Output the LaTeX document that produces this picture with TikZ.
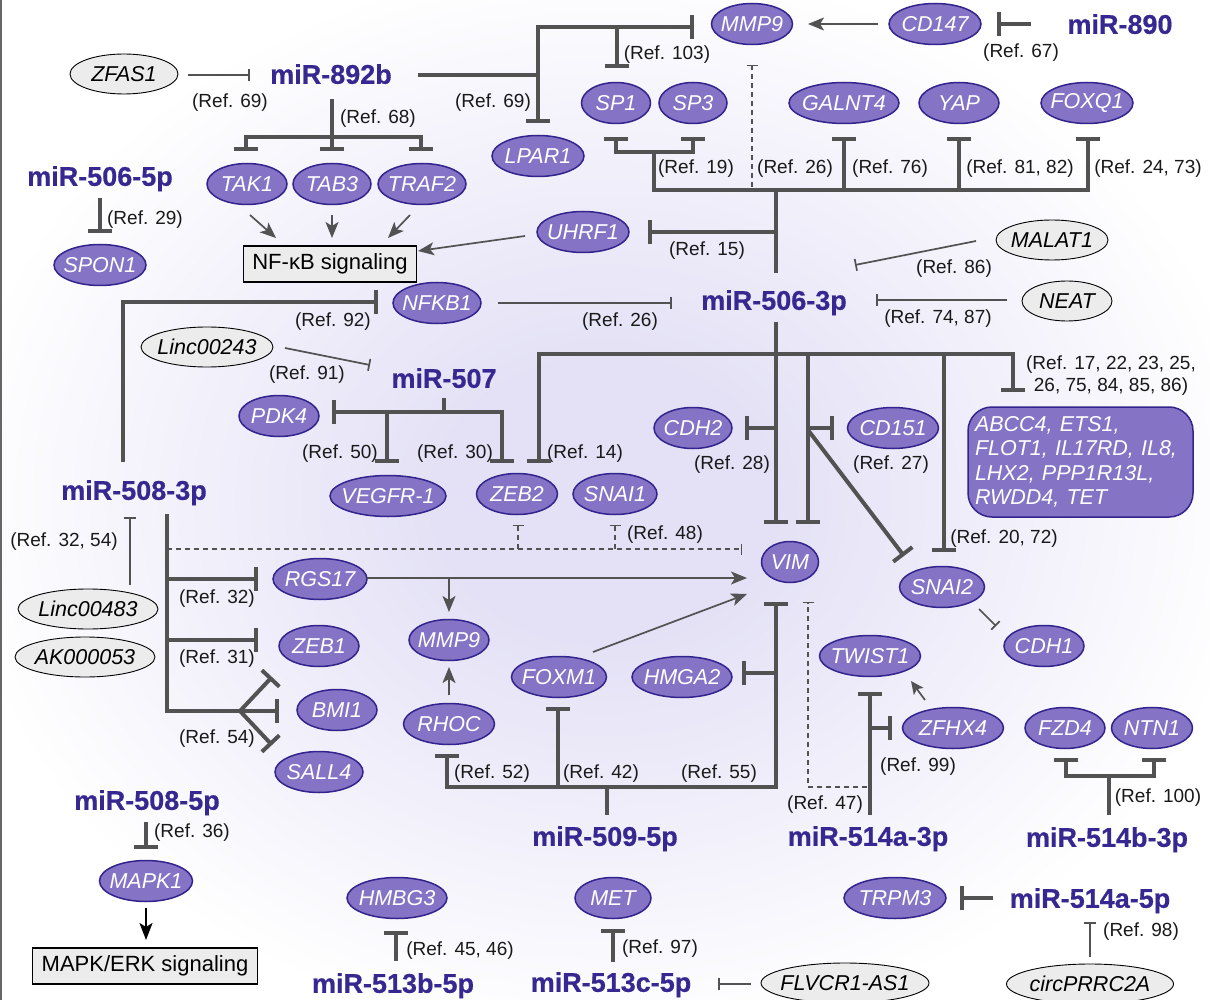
\documentclass[tikz,border=0pt]{standalone}
\usepackage{fontspec}
\setmainfont{Liberation Sans}[BoldFeatures={FakeBold=0.6}]
\usetikzlibrary{shapes.geometric,arrows.meta}
\definecolor{dblue}{RGB}{55,40,145}
\definecolor{gfill}{RGB}{133,115,198}
\definecolor{gbord}{RGB}{50,36,140}
\definecolor{lc}{RGB}{82,82,82}
\definecolor{lgray}{RGB}{236,236,236}
\definecolor{lav}{RGB}{228,225,246}
\pgfdeclareradialshading{bgsh}{\pgfpoint{0bp}{0bp}}{color(0bp)=(lav); color(7bp)=(lav); color(27bp)=(white); color(50bp)=(white)}
\tikzset{
  gene/.style={ellipse, draw=gbord, fill=gfill, line width=1.5pt, minimum height=41pt, inner sep=0pt},
  gtext/.style={text=white, font=\fontsize{21.5}{24}\selectfont\itshape, inner sep=0pt},
  lnc/.style={ellipse, draw=black, fill=lgray, line width=0.9pt, minimum height=40pt, inner sep=0pt},
  ltext/.style={text=black, font=\fontsize{21.5}{24}\selectfont\itshape, inner sep=0pt},
  mir/.style={text=dblue, font=\fontsize{27}{29}\selectfont\bfseries, inner sep=0pt, text depth=0pt},
  ref/.style={text=black!90, font=\fontsize{19}{22}\selectfont, inner sep=0pt, text depth=0pt},
  sbox/.style={draw=black, fill=lgray, line width=1.5pt, font=\fontsize{22}{24}\selectfont, inner xsep=9pt, inner ysep=0pt, minimum height=36pt},
  tbox/.style={draw=gbord, fill=gfill, line width=1.5pt, rounded corners=24pt, text=white, font=\fontsize{21.5}{24.3}\selectfont\itshape, align=left, text width=211pt, inner xsep=7pt, minimum width=225pt, minimum height=110pt},
  lk/.style={draw=lc, line width=4pt},
  inh/.style={lk, -{Bar[width=24pt]}},
  inhb/.style={lk, {Bar[width=24pt]}-{Bar[width=24pt]}},
  tl/.style={draw=lc, line width=1.7pt},
  tinh/.style={tl, -{Bar[width=12pt]}},
  tarr/.style={tl, -{Stealth[length=16pt, width=13pt, inset=4pt]}},
  dinh/.style={draw=lc, line width=1.3pt, dash pattern=on 5pt off 4pt, -{Bar[width=11pt]}},
}
\newcommand\genenode[4]{\node[gene, minimum width=#3pt, label={[gtext]center:#4}] (#1) at (#2) {};}
\newcommand\lncnode[4]{\node[lnc, minimum width=#3pt, label={[ltext]center:#4}] (#1) at (#2) {};}
\begin{document}
\begin{tikzpicture}[x=1pt,y=-1pt]
\useasboundingbox (0,0) rectangle (1210,1000);
\shade[shading=bgsh] (0,0) rectangle (1210,1000);
\draw[black!60, line width=1.5pt] (1,0) -- (1,1000);

% ---------- gene nodes ----------
\genenode{mmpA}{752,24}{81}{MMP9}
\genenode{cd147}{935,24}{92}{CD147}
\genenode{lpar1}{538,156}{92}{LPAR1}
\genenode{sp1}{616,103}{69}{SP1}
\genenode{sp3}{693,103}{68}{SP3}
\genenode{galnt4}{844,103}{110}{GALNT4}
\genenode{yap}{959,103}{80}{YAP}
\genenode{foxq1}{1087,103}{92}{FOXQ1}
\genenode{tak1}{247,184}{80}{TAK1}
\genenode{tab3}{332,184}{78}{TAB3}
\genenode{traf2}{422,184}{88}{TRAF2}
\genenode{uhrf1}{583,232}{92}{UHRF1}
\genenode{spon1}{100,265}{92}{SPON1}
\genenode{nfkb1}{437,303}{88}{NFKB1}
\genenode{cdh2}{693,428}{78}{CDH2}
\genenode{cd151}{893,428}{91}{CD151}
\genenode{pdk4}{279,416}{80}{PDK4}
\genenode{vegfr}{388,496}{116}{VEGFR-1}
\genenode{zeb2}{517,494}{81}{ZEB2}
\genenode{snai1}{615,494}{84}{SNAI1}
\genenode{vim}{790,562}{57}{VIM}
\genenode{rgs17}{320,579}{94}{RGS17}
\genenode{zeb1}{319,646}{80}{ZEB1}
\genenode{bmi1}{337,710}{80}{BMI1}
\genenode{sall4}{319,772}{88}{SALL4}
\genenode{mmpB}{449,640}{80}{MMP9}
\genenode{rhoc}{449,724}{91}{RHOC}
\genenode{foxm1}{559,677}{95}{FOXM1}
\genenode{hmga2}{682,677}{100}{HMGA2}
\genenode{snai2}{942,587}{85}{SNAI2}
\genenode{cdh1}{1044,646}{80}{CDH1}
\genenode{twist1}{870,656}{101}{TWIST1}
\genenode{zfhx4}{953,728}{101}{ZFHX4}
\genenode{fzd4}{1065,728}{80}{FZD4}
\genenode{ntn1}{1152,728}{81}{NTN1}
\genenode{mapk1}{146,881}{93}{MAPK1}
\genenode{hmbg3}{397,898}{100}{HMBG3}
\genenode{met}{613,898}{76}{MET}
\genenode{trpm3}{895,898}{102}{TRPM3}

% ---------- lncRNA nodes ----------
\lncnode{zfas1}{124,74}{108}{ZFAS1}
\lncnode{malat1}{1052,240}{112}{MALAT1}
\lncnode{neat}{1067,301}{90}{NEAT}
\lncnode{linc243}{207,347}{132}{Linc00243}
\lncnode{linc483}{88,609}{140}{Linc00483}
\lncnode{ak53}{85,657}{140}{AK000053}
\lncnode{flvcr}{845,983}{168}{FLVCR1-AS1}
\lncnode{circ}{1090,984}{167}{circPRRC2A}

% ---------- miRNA labels ----------
\node[mir] (m890) at (1120,24) {miR-890};
\node[mir] (m892b) at (331,74) {miR-892b};
\node[mir] (m5065p) at (100,176) {miR-506-5p};
\node[mir] (m5063p) at (774,300) {miR-506-3p};
\node[mir] (m507) at (444,378) {miR-507};
\node[mir] (m5083p) at (134,490) {miR-508-3p};
\node[mir] (m5085p) at (147,800) {miR-508-5p};
\node[mir] (m5095p) at (605,836) {miR-509-5p};
\node[mir] (m514a3) at (868,836) {miR-514a-3p};
\node[mir] (m514b3) at (1107,837) {miR-514b-3p};
\node[mir] (m514a5) at (1090,898) {miR-514a-5p};
\node[mir] (m513b) at (393,983) {miR-513b-5p};
\node[mir] (m513c) at (611,982) {miR-513c-5p};

% ---------- boxes ----------
\node[sbox] (nfkbsig) at (330,264) {NF-κB signaling};
\node[sbox] (mapksig) at (145,966) {MAPK/ERK signaling};
\node[tbox] (tgt) at (1080.5,462) {ABCC4, ETS1,\\FLOT1, IL17RD, IL8,\\LHX2, PPP1R13L,\\RWDD4, TET};

% ---------- reference labels ----------
\node[ref] (r67) at (1021,51) {(Ref. 67)};
\node[ref] (r69a) at (230,101) {(Ref. 69)};
\node[ref] (r103) at (667,53) {(Ref. 103)};
\node[ref] (r69b) at (493,101) {(Ref. 69)};
\node[ref] (r68) at (378,117) {(Ref. 68)};
\node[ref] (r19) at (696,167) {(Ref. 19)};
\node[ref] (r26a) at (795,167) {(Ref. 26)};
\node[ref] (r76) at (890,167) {(Ref. 76)};
\node[ref] (r8182) at (1020,167) {(Ref. 81, 82)};
\node[ref] (r2473) at (1148,167) {(Ref. 24, 73)};
\node[ref] (r29) at (145,218) {(Ref. 29)};
\node[ref] (r15) at (707,249) {(Ref. 15)};
\node[ref] (r86) at (954,267) {(Ref. 86)};
\node[ref] (r92) at (333,320) {(Ref. 92)};
\node[ref] (r26b) at (620,320) {(Ref. 26)};
\node[ref] (r7487) at (938,317) {(Ref. 74, 87)};
\node[ref] (r91) at (307,373) {(Ref. 91)};
\node[ref, align=center, text depth=] (rmany) at (1111,376) {(Ref. 17, 22, 23, 25,\\26, 75, 84, 85, 86)};
\node[ref] (r50) at (340,452) {(Ref. 50)};
\node[ref] (r30) at (455,452) {(Ref. 30)};
\node[ref] (r14) at (585,452) {(Ref. 14)};
\node[ref] (r28) at (732,463) {(Ref. 28)};
\node[ref] (r27) at (891,463) {(Ref. 27)};
\node[ref] (r48) at (665,533) {(Ref. 48)};
\node[ref] (r3254) at (64,540) {(Ref. 32, 54)};
\node[ref] (r2072) at (1004,537) {(Ref. 20, 72)};
\node[ref] (r32) at (217,597) {(Ref. 32)};
\node[ref] (r31) at (217,657) {(Ref. 31)};
\node[ref] (r54) at (217,737) {(Ref. 54)};
\node[ref] (r52) at (492,772) {(Ref. 52)};
\node[ref] (r42) at (601,772) {(Ref. 42)};
\node[ref] (r55) at (719,772) {(Ref. 55)};
\node[ref] (r99) at (918,765) {(Ref. 99)};
\node[ref] (r47) at (825,803) {(Ref. 47)};
\node[ref] (r100) at (1158,796) {(Ref. 100)};
\node[ref] (r36) at (192,831) {(Ref. 36)};
\node[ref] (r4546) at (460,949) {(Ref. 45, 46)};
\node[ref] (r97) at (660,947) {(Ref. 97)};
\node[ref] (r98) at (1141,930) {(Ref. 98)};

% ---------- junction / end coordinates ----------
\coordinate (a0) at (1031,24); \coordinate (a1) at (997,24);
\coordinate (a2) at (878,24); \coordinate (a3) at (808,24);
\coordinate (z1) at (188,75); \coordinate (z2) at (250,75);
\coordinate (b0) at (418,75); \coordinate (b1) at (538,75);
\coordinate (b2) at (538,27); \coordinate (b3) at (617,27);
\coordinate (b4) at (694,27); \coordinate (b5) at (617,68);
\coordinate (b6) at (538,123);
\coordinate (c0) at (332,99); \coordinate (c1) at (332,137);
\coordinate (c2) at (246,137); \coordinate (c3) at (246,151);
\coordinate (c4) at (332,151); \coordinate (c5) at (421,137);
\coordinate (c6) at (421,151);
\coordinate (d1) at (250,215); \coordinate (d2) at (276,238);
\coordinate (d3) at (332,215); \coordinate (d4) at (332,238);
\coordinate (d5) at (410,215); \coordinate (d6) at (388,238);
\coordinate (d7) at (525,236); \coordinate (d8) at (418,251);
\coordinate (e1) at (616,137); \coordinate (e2) at (616,152);
\coordinate (e3) at (693,152); \coordinate (e4) at (693,137);
\coordinate (e5) at (654,152); \coordinate (e6) at (654,190);
\coordinate (e7) at (1088,190); \coordinate (e8) at (1088,137);
\coordinate (e9) at (844,190); \coordinate (e10) at (844,137);
\coordinate (e11) at (959,190); \coordinate (e12) at (959,137);
\coordinate (e13) at (776,190); \coordinate (e14) at (776,273);
\coordinate (e15) at (752,187); \coordinate (e16) at (752,65);
\coordinate (e17) at (776,232); \coordinate (e18) at (648,232);
\coordinate (n1) at (498,303); \coordinate (n2) at (672,303);
\coordinate (n3) at (976,241); \coordinate (n4) at (855,265);
\coordinate (n5) at (1007,300); \coordinate (n6) at (876,300);
\coordinate (f0) at (776,322); \coordinate (f1) at (776,524);
\coordinate (f2) at (539,354); \coordinate (f3) at (1013,354);
\coordinate (f4) at (539,463); \coordinate (f5) at (1013,392);
\coordinate (f6) at (808,354); \coordinate (f7) at (808,524);
\coordinate (f8) at (944,354); \coordinate (f9) at (944,552);
\coordinate (f10) at (776,428); \coordinate (f11) at (745,428);
\coordinate (f12) at (808,428); \coordinate (f13) at (834,428);
\coordinate (f14) at (808,430); \coordinate (f15) at (904,556);
\coordinate (g0) at (444,398); \coordinate (g1) at (444,412);
\coordinate (g2) at (332,412); \coordinate (g3) at (502,412);
\coordinate (g4) at (502,463); \coordinate (g5) at (387,412);
\coordinate (g6) at (387,463);
\coordinate (g7) at (285,348); \coordinate (g8) at (370,365);
\coordinate (h0) at (123,462); \coordinate (h1) at (123,302);
\coordinate (h2) at (378,302);
\coordinate (i0) at (167,514); \coordinate (i1) at (167,711);
\coordinate (i2) at (240,711); \coordinate (i3) at (167,579);
\coordinate (i4) at (258,579); \coordinate (i5) at (167,640);
\coordinate (i6) at (258,640); \coordinate (i7) at (279,711);
\coordinate (i8) at (272,677); \coordinate (i9) at (272,745);
\coordinate (i10) at (167,549); \coordinate (i11) at (742,549);
\coordinate (i12) at (518,549); \coordinate (i13) at (518,525);
\coordinate (i14) at (615,549); \coordinate (i15) at (615,525);
\coordinate (i16) at (130,585); \coordinate (i17) at (130,517);
\coordinate (j1) at (367,578); \coordinate (j2) at (747,578);
\coordinate (j3) at (449,578); \coordinate (j4) at (449,612);
\coordinate (j5) at (449,695); \coordinate (j6) at (449,667);
\coordinate (j7) at (593,652); \coordinate (j8) at (747,594);
\coordinate (k0) at (607,815); \coordinate (k1) at (607,787);
\coordinate (k2) at (447,787); \coordinate (k3) at (447,754);
\coordinate (k4) at (776,787); \coordinate (k5) at (776,602);
\coordinate (k6) at (558,787); \coordinate (k7) at (558,707);
\coordinate (k8) at (776,673); \coordinate (k9) at (742,673);
\coordinate (l0) at (870,815); \coordinate (l1) at (870,692);
\coordinate (l2) at (870,728); \coordinate (l3) at (892,728);
\coordinate (l4) at (867,787); \coordinate (l5) at (808,787);
\coordinate (l6) at (808,602);
\coordinate (l7) at (925,700); \coordinate (l8) at (911,681);
\coordinate (l9) at (979,609); \coordinate (l10) at (996,626);
\coordinate (m0) at (1109,815); \coordinate (m1) at (1109,776);
\coordinate (m2) at (1066,776); \coordinate (m3) at (1066,758);
\coordinate (m4) at (1154,776); \coordinate (m5) at (1154,758);
\coordinate (o1) at (993,898); \coordinate (o2) at (960,898);
\coordinate (o3) at (1090,957); \coordinate (o4) at (1090,922);
\coordinate (p1) at (146,822); \coordinate (p2) at (146,849);
\coordinate (p3) at (146,908); \coordinate (p4) at (146,940);
\coordinate (q1) at (396,961); \coordinate (q2) at (396,931);
\coordinate (q3) at (613,962); \coordinate (q4) at (613,929);
\coordinate (q5) at (751,984); \coordinate (q6) at (718,984);
\coordinate (s1) at (100,198); \coordinate (s2) at (100,233);

% ---------- connectors ----------
% miR-890 / CD147 / MMP9
\draw[inh] (a0) -- (a1);
\draw[tarr] (a2) -- (a3);
% ZFAS1 -| miR-892b
\draw[tinh] (z1) -- (z2);
% miR-892b targets
\draw[inh] (b0) -- (b1) -- (b6);
\draw[lk] (b1) -- (b2) -- (b3);
\draw[inh] (b3) -- (b4);
\draw[inh] (b3) -- (b5);
\draw[lk] (c0) -- (c1);
\draw[inh] (c1) -- (c2) -- (c3);
\draw[inh] (c1) -- (c4);
\draw[inh] (c1) -- (c5) -- (c6);
% to NF-kB signaling
\draw[tarr] (d1) -- (d2);
\draw[tarr] (d3) -- (d4);
\draw[tarr] (d5) -- (d6);
\draw[tarr] (d7) -- (d8);
% miR-506-5p -| SPON1
\draw[inh] (s1) -- (s2);
% miR-506-3p upper targets
\draw[inh] (e5) -- (e2) -- (e1);
\draw[inh] (e5) -- (e3) -- (e4);
\draw[inh] (e5) -- (e6) -- (e7) -- (e8);
\draw[inh] (e9) -- (e10);
\draw[inh] (e11) -- (e12);
\draw[lk] (e14) -- (e13);
\draw[dinh] (e15) -- (e16);
\draw[inh] (e17) -- (e18);
% regulators of miR-506-3p
\draw[tinh] (n1) -- (n2);
\draw[tinh] (n3) -- (n4);
\draw[tinh] (n5) -- (n6);
% miR-506-3p lower targets
\draw[inh] (f0) -- (f1);
\draw[inhb] (f4) -- (f2) -- (f3) -- (f5);
\draw[inh] (f6) -- (f7);
\draw[inh] (f8) -- (f9);
\draw[inh] (f10) -- (f11);
\draw[inh] (f12) -- (f13);
\draw[inh] (f14) -- (f15);
% miR-507
\draw[lk] (g0) -- (g1);
\draw[inhb] (g2) -- (g3) -- (g4);
\draw[inh] (g5) -- (g6);
\draw[tinh] (g7) -- (g8);
% miR-508-3p
\draw[inh] (h0) -- (h1) -- (h2);
\draw[lk] (i0) -- (i1) -- (i2);
\draw[inh] (i3) -- (i4);
\draw[inh] (i5) -- (i6);
\draw[inh] (i2) -- (i7);
\draw[inh] (i2) -- (i8);
\draw[inh] (i2) -- (i9);
\draw[dinh] (i10) -- (i11);
\draw[dinh] (i12) -- (i13);
\draw[dinh] (i14) -- (i15);
\draw[tinh] (i16) -- (i17);
% activations
\draw[tarr] (j1) -- (j2);
\draw[tarr] (j3) -- (j4);
\draw[tarr] (j5) -- (j6);
\draw[tarr] (j7) -- (j8);
% miR-509-5p
\draw[lk] (k0) -- (k1);
\draw[inh] (k1) -- (k2) -- (k3);
\draw[inh] (k1) -- (k4) -- (k5);
\draw[inh] (k6) -- (k7);
\draw[inh] (k8) -- (k9);
% miR-514a-3p
\draw[inh] (l0) -- (l1);
\draw[inh] (l2) -- (l3);
\draw[dinh] (l4) -- (l5) -- (l6);
\draw[tl, -{Stealth[length=13pt, width=12pt, inset=3pt]}] (l7) -- (l8);
\draw[tinh] (l9) -- (l10);
% miR-514b-3p
\draw[lk] (m0) -- (m1);
\draw[inh] (m1) -- (m2) -- (m3);
\draw[inh] (m1) -- (m4) -- (m5);
% miR-514a-5p
\draw[inh] (o1) -- (o2);
\draw[tinh] (o3) -- (o4);
% miR-508-5p
\draw[inh] (p1) -- (p2);
\draw[black, line width=2pt, -{Stealth[length=17pt, width=13pt, inset=4pt]}] (p3) -- (p4);
% miR-513b/c
\draw[inh] (q1) -- (q2);
\draw[inh] (q3) -- (q4);
\draw[tinh] (q5) -- (q6);
\end{tikzpicture}
\end{document}
